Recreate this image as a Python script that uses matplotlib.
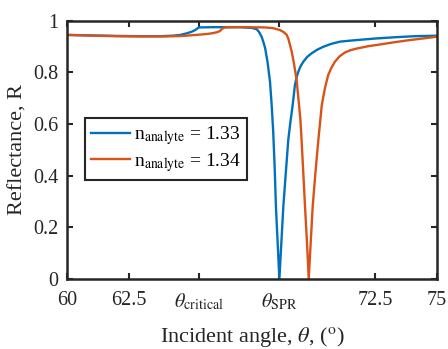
import matplotlib
matplotlib.use("Agg")
import matplotlib.pyplot as plt

# incident angle (deg) and reflectance
angle_133 = [60.0, 61.0, 62.0, 63.0, 63.8, 64.3, 64.6, 64.85, 65.05, 65.2,
             65.3, 65.35, 66.0, 67.0, 67.5, 67.69, 67.78, 67.89, 67.96, 68.03,
             68.13, 68.23, 68.30, 68.36, 68.42, 68.47, 68.54, 68.61, 68.69,
             68.77, 68.87, 68.97, 69.06, 69.15, 69.24, 69.31, 69.38, 69.47,
             69.58, 69.74, 69.92, 70.15, 70.39, 70.7, 71.07, 71.74, 72.5,
             73.3, 74.1, 75.0]
refl_133 = [0.945, 0.943, 0.941, 0.940, 0.940, 0.942, 0.945, 0.951, 0.957, 0.964,
            0.971, 0.974, 0.975, 0.975, 0.972, 0.967, 0.957, 0.938, 0.918, 0.895,
            0.84, 0.764, 0.67, 0.57, 0.43, 0.28, 0.14, 0.0, 0.14,
            0.28, 0.41, 0.538, 0.61, 0.674, 0.751, 0.782, 0.803, 0.824,
            0.841, 0.860, 0.874, 0.888, 0.899, 0.910, 0.919, 0.925, 0.931,
            0.936, 0.940, 0.942]

angle_134 = [60.0, 61.0, 62.0, 63.0, 64.0, 64.7, 65.1, 65.5, 65.8, 66.07,
             66.2, 66.27, 66.35, 66.4, 67.0, 68.03, 68.36, 68.63, 68.78, 68.91,
             68.98, 69.04, 69.11, 69.2, 69.31, 69.40, 69.46, 69.51, 69.58,
             69.65, 69.73, 69.80, 69.88, 69.96, 70.07, 70.19, 70.33, 70.46,
             70.59, 70.72, 70.86, 71.05, 71.27, 71.5, 71.74, 72.2, 72.69,
             73.3, 73.9, 74.5, 75.0]
refl_134 = [0.945, 0.942, 0.940, 0.939, 0.939, 0.941, 0.944, 0.947, 0.950, 0.955,
            0.960, 0.967, 0.972, 0.974, 0.975, 0.974, 0.971, 0.964, 0.956, 0.945,
            0.928, 0.906, 0.88, 0.835, 0.77, 0.68, 0.62, 0.538, 0.41,
            0.28, 0.14, 0.0, 0.14, 0.28, 0.41, 0.538, 0.674, 0.74,
            0.79, 0.818, 0.841, 0.862, 0.877, 0.886, 0.892, 0.901, 0.908,
            0.917, 0.925, 0.932, 0.938]

x_ticks = [60, 62.5, 65.35, 68.6, 72.5, 75]
x_tick_labels = ["60", "62.5", r"$\theta_{\rm critical}$", r"$\theta_{\rm SPR}$", "72.5", "75"]
y_ticks = [0, 0.2, 0.4, 0.6, 0.8, 1]
y_tick_labels = ["0", "0.2", "0.4", "0.6", "0.8", "1"]

plt.rcParams["font.family"] = ["Liberation Serif", "DejaVu Serif"]
plt.rcParams["mathtext.fontset"] = "stix"

fig = plt.figure(figsize=(4.48, 3.49), dpi=100)
ax = fig.add_axes([0.1496, 0.2006, 0.8258, 0.7401])

ax.plot(angle_133, refl_133, color="#0072BD", lw=1.7, label=r"n$_{\rm analyte}$ = 1.33")
ax.plot(angle_134, refl_134, color="#D95319", lw=1.7, label=r"n$_{\rm analyte}$ = 1.34")

ax.set_xlim(60, 75)
ax.set_ylim(0, 1)
ax.set_xticks(x_ticks)
ax.set_xticklabels(x_tick_labels)
ax.set_yticks(y_ticks)
ax.set_yticklabels(y_tick_labels)
ax.tick_params(direction="in", top=True, right=True, length=4, width=1.5,
               color="#262626", labelsize=14.5, labelcolor="#262626")
ax.tick_params(axis="x", pad=9)
ax.tick_params(axis="y", pad=6)
for s in ax.spines.values():
    s.set_linewidth(1.8)
    s.set_color("#262626")

ax.set_xlabel(r"Incident angle, $\theta$, ($^{\rm o}$)", fontsize=16,
              color="#262626", labelpad=9)
ax.set_ylabel("Reflectance, R", fontsize=16, color="#262626", labelpad=4)

leg = ax.legend(loc="upper left", bbox_to_anchor=(0.049, 0.622), fontsize=14,
                fancybox=False, framealpha=1, edgecolor="#262626",
                borderpad=0.3, handlelength=2.0, handletextpad=0.2,
                labelspacing=0.2, borderaxespad=0)
leg.get_frame().set_linewidth(1.5)

fig.savefig("out.png", dpi=100)
